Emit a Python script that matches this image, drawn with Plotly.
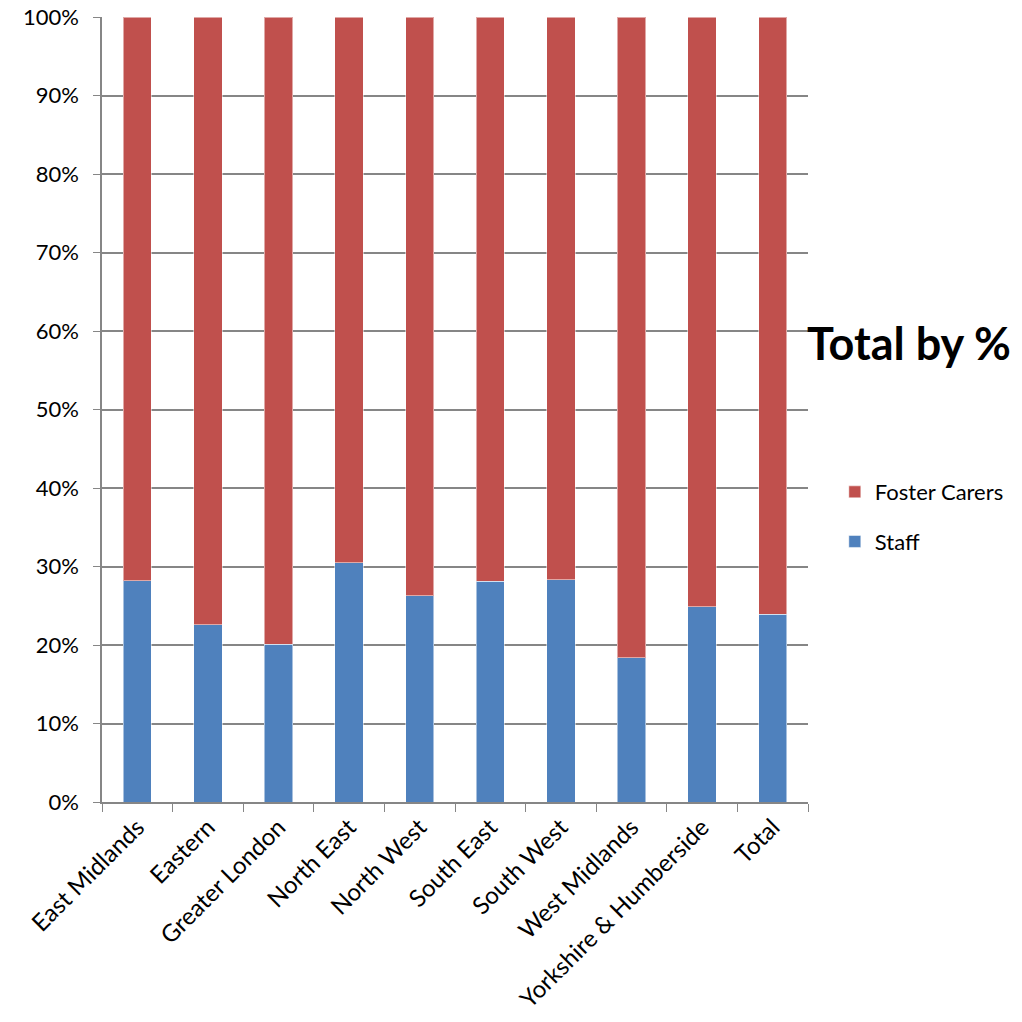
import plotly.graph_objects as go

regions = ["East Midlands", "Eastern", "Greater London", "North East", "North West",
           "South East", "South West", "West Midlands", "Yorkshire & Humberside", "Total"]
staff = [28.2, 22.6, 20.1, 30.5, 26.3, 28.1, 28.3, 18.4, 24.9, 23.9]
foster = [71.8, 77.4, 79.9, 69.5, 73.7, 71.9, 71.7, 81.6, 75.1, 76.1]

FONT = "Lato, 'Liberation Sans', sans-serif"

fig = go.Figure()
fig.add_trace(go.Bar(x=regions, y=staff, name="Staff", marker_color="#4F81BD",
                     marker_line=dict(color="rgba(255,255,255,0.5)", width=1),
                     legendgroup="a", legendrank=2))
fig.add_trace(go.Bar(x=regions, y=foster, name="Foster Carers", marker_color="#C0504D",
                     marker_line=dict(color="rgba(255,255,255,0.5)", width=1),
                     legendgroup="b", legendrank=1))

fig.update_layout(
    barmode="stack",
    bargap=0.6,
    width=1022, height=1022,
    margin=dict(l=102, r=214, t=17, b=220, autoexpand=False),
    plot_bgcolor="white", paper_bgcolor="white",
    font=dict(family=FONT, size=22, color="black"),
    legend=dict(x=1.038, y=0.363, xanchor="left", yanchor="middle",
                traceorder="grouped", tracegroupgap=18,
                font=dict(size=22), itemwidth=30),
    annotations=[dict(text="<b>Total by %</b>", x=1.143, y=0.585, xref="paper", yref="paper",
                      xanchor="center", yanchor="middle", showarrow=False,
                      font=dict(size=45, family=FONT))],
)
fig.update_yaxes(range=[0, 100.02], tick0=0, dtick=10, ticksuffix="%", showgrid=True,
                 gridcolor="#868686", gridwidth=1.5, showline=True, linecolor="#868686",
                 linewidth=1.5, ticks="outside", ticklen=7, tickcolor="#868686",
                 tickfont=dict(size=22), zeroline=False, automargin=False,
                 ticklabelstandoff=10, ticklabeloverflow="allow")
fig.update_xaxes(tickangle=-45, showline=True, linecolor="#868686", linewidth=1.5,
                 ticks="outside", tickson="boundaries", ticklen=8, tickcolor="#868686",
                 tickfont=dict(size=24), automargin=False)

fig.write_html("out.html", config={"displayModeBar": False},
               post_script="document.body.style.margin='0';document.body.style.overflow='hidden';")
